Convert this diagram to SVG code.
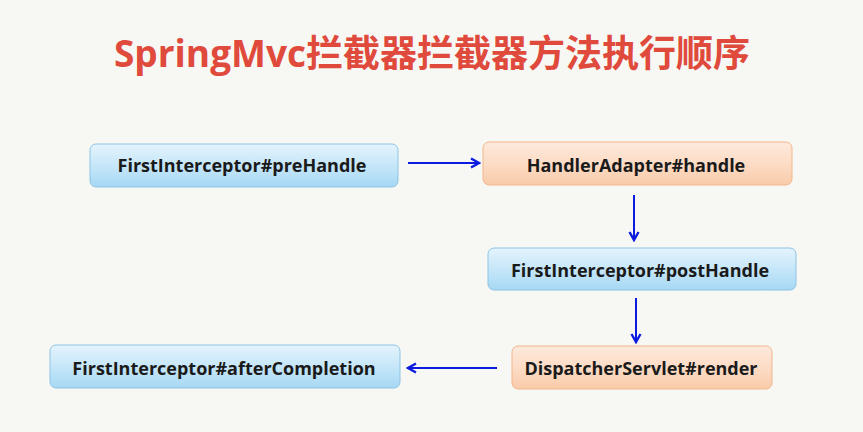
<svg xmlns="http://www.w3.org/2000/svg" width="863" height="432" viewBox="0 0 863 432">
<defs>
<linearGradient id="blue" x1="0" y1="0" x2="0" y2="1">
<stop offset="0" stop-color="#e4f3fc"/>
<stop offset="0.45" stop-color="#c9e8f9"/>
<stop offset="1" stop-color="#a6d8f4"/>
</linearGradient>
<linearGradient id="peach" x1="0" y1="0" x2="0" y2="1">
<stop offset="0" stop-color="#fde9dc"/>
<stop offset="0.5" stop-color="#fcdcc6"/>
<stop offset="1" stop-color="#f9cba9"/>
</linearGradient>
<marker id="ah" viewBox="0 0 12 12" refX="10" refY="6" markerWidth="12" markerHeight="12" markerUnits="userSpaceOnUse" orient="auto">
<path d="M2,1.5 L10,6 L2,10.5" fill="none" stroke="#0b1be0" stroke-width="2.4"/>
</marker>
</defs>
<style>
.b{fill:url(#blue);stroke:#8ec3e3;stroke-width:1}
.p{fill:url(#peach);stroke:#f2b68c;stroke-width:1}
.t{font-family:"Open Sans","DejaVu Sans",sans-serif;font-weight:bold;font-size:18px;fill:#1a1a1a;text-anchor:middle}
.c{stroke:#0b1be0;stroke-width:2;fill:none;marker-end:url(#ah)}
</style>
<rect width="863" height="432" fill="#f7f8f4"/>
<text x="432" y="67" font-family="'Open Sans','Noto Sans CJK SC',sans-serif" font-weight="bold" font-size="37" fill="#df4a3c" text-anchor="middle">SpringMvc拦截器拦截器方法执行顺序</text>
<g id="n1"><rect class="b" x="90" y="144" width="308" height="43" rx="6"/><text class="t" x="242" y="172">FirstInterceptor#preHandle</text></g>
<g id="n2"><rect class="p" x="483" y="142" width="309" height="43" rx="6"/><text class="t" x="636" y="172">HandlerAdapter#handle</text></g>
<g id="n3"><rect class="b" x="488" y="248" width="308" height="42" rx="6"/><text class="t" x="640" y="277">FirstInterceptor#postHandle</text></g>
<g id="n4"><rect class="p" x="512" y="346" width="260" height="43" rx="6"/><text class="t" x="641" y="375">DispatcherServlet#render</text></g>
<g id="n5"><rect class="b" x="50" y="345" width="350" height="43" rx="6"/><text class="t" x="224" y="375">FirstInterceptor#afterCompletion</text></g>
<g id="connectors">
<line class="c" x1="408" y1="163" x2="479" y2="163"/>
<line class="c" x1="634" y1="195" x2="634" y2="240"/>
<line class="c" x1="636" y1="298" x2="636" y2="342"/>
<line class="c" x1="497" y1="368" x2="408" y2="368"/>
</g>
</svg>
